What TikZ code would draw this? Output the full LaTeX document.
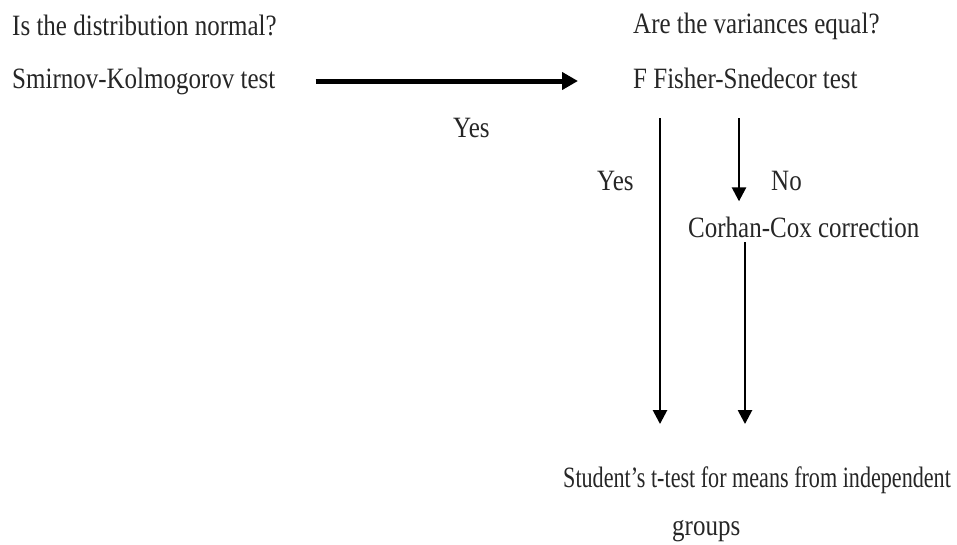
\documentclass[tikz,border=0pt]{standalone}
\usepackage{fontspec}
\setmainfont{Liberation Serif}
\usepackage{graphicx}
\usetikzlibrary{arrows.meta,calc}
\newcommand{\tx}[1]{\scalebox{1}[1.18]{#1}}
\newcommand{\txn}[1]{\scalebox{0.885}[1.18]{#1}}
\tikzset{
  lbl/.style={anchor=base west, inner sep=0pt, font=\fontsize{25}{30}\selectfont, text=black!85},
  harr/.style={line width=5pt, -{Triangle[length=16pt,width=17pt]}},
  varr/.style={line width=2.6pt, -{Triangle[length=14pt,width=14pt]}}
}
\begin{document}
\begin{tikzpicture}[x=1pt,y=-1pt]
\useasboundingbox (0,0) rectangle (957,544);
\node[lbl] (q1) at (12,35) {\tx{Is the distribution normal?}};
\node[lbl] (smir) at (12,88) {\tx{Smirnov-Kolmogorov test}};
\node[lbl] (q2) at (633,33) {\tx{Are the variances equal?}};
\node[lbl] (fish) at (633,88) {\tx{F Fisher-Snedecor test}};
\node[lbl] (yes1) at (453,137) {\tx{Yes}};
\node[lbl] (yes2) at (597,190) {\tx{Yes}};
\node[lbl] (no) at (771,190) {\tx{No}};
\node[lbl] (corh) at (688,237) {\tx{Corhan-Cox correction}};
\node[lbl] (stud) at (563,487) {\txn{Student's t-test for means from independent}};
\node[lbl] (grp) at (672,535) {\tx{groups}};
% connector guide points
\coordinate (hs) at (315,81);
\coordinate (c1) at (660,118);
\coordinate (c2) at (739,118);
\coordinate (c3) at (745,248);
\draw[harr] ($(smir.east |- hs)+(40,0)$) -- ($(fish.west |- hs)+(-55,0)$);
\draw[varr] ($(fish.south -| c1)+(0,30)$) -- ($(stud.north -| c1)+(0,-42)$);
\draw[varr] ($(fish.south -| c2)+(0,30)$) -- ($(corh.north -| c2)+(0,-15)$);
\draw[varr] ($(corh.south -| c3)+(0,5)$) -- ($(stud.north -| c3)+(0,-42)$);
\end{tikzpicture}
\end{document}
